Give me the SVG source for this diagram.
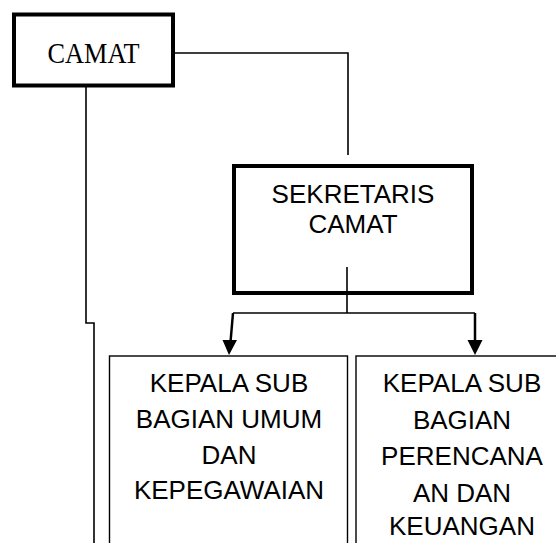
<svg xmlns="http://www.w3.org/2000/svg" width="556" height="543" viewBox="0 0 556 543">
<style>
.thick{fill:#fff;stroke:#000;stroke-width:4}
.thin{fill:#fff;stroke:#000;stroke-width:1.4}
.ln{fill:none;stroke:#000;stroke-width:1.6}
.sans{font-family:"Liberation Sans",Arial,sans-serif;font-size:26px;text-anchor:middle;fill:#000}
.serif{font-family:"Liberation Serif","Times New Roman",serif;font-size:30px;text-anchor:middle;fill:#000}
</style>
<rect width="556" height="543" fill="#fff"/>
<g id="connectors">
<path class="ln" d="M171,53 H348 V155"/>
<path class="ln" d="M86,87 V323 H94 V543"/>
<path class="ln" d="M347,267 V313"/>
<path class="ln" d="M233,313 H475"/>
<path d="M233,313 L230.5,342" fill="none" stroke="#000" stroke-width="2.5"/>
<path d="M222.5,340 L237,340 L229,355 Z" fill="#000"/>
<path d="M475,313 V342" fill="none" stroke="#000" stroke-width="2.5"/>
<path d="M467.5,340 L482.5,340 L475,355 Z" fill="#000"/>
</g>
<g id="camat">
<rect class="thick" x="14" y="14.5" width="159" height="71"/>
<text class="serif" x="93.5" y="63" textLength="92" lengthAdjust="spacingAndGlyphs">CAMAT</text>
</g>
<g id="sekretaris">
<rect class="thick" x="234" y="166" width="238" height="127"/>
<text class="sans" x="353" y="203">SEKRETARIS</text>
<text class="sans" x="353" y="233">CAMAT</text>
<path class="ln" d="M347,267 V293"/>
</g>
<g id="kasubag-umum">
<rect class="thin" x="109.5" y="356" width="238" height="200"/>
<text class="sans" x="229" y="392">KEPALA SUB</text>
<text class="sans" x="229" y="428">BAGIAN UMUM</text>
<text class="sans" x="229" y="463.5">DAN</text>
<text class="sans" x="229" y="498.5">KEPEGAWAIAN</text>
</g>
<g id="kasubag-perencanaan">
<rect class="thin" x="356" y="356" width="212" height="200"/>
<text class="sans" x="462" y="392">KEPALA SUB</text>
<text class="sans" x="462" y="428.5">BAGIAN</text>
<text class="sans" x="462" y="465">PERENCANA</text>
<text class="sans" x="462" y="501.5">AN DAN</text>
<text class="sans" x="462" y="535">KEUANGAN</text>
</g>
</svg>
